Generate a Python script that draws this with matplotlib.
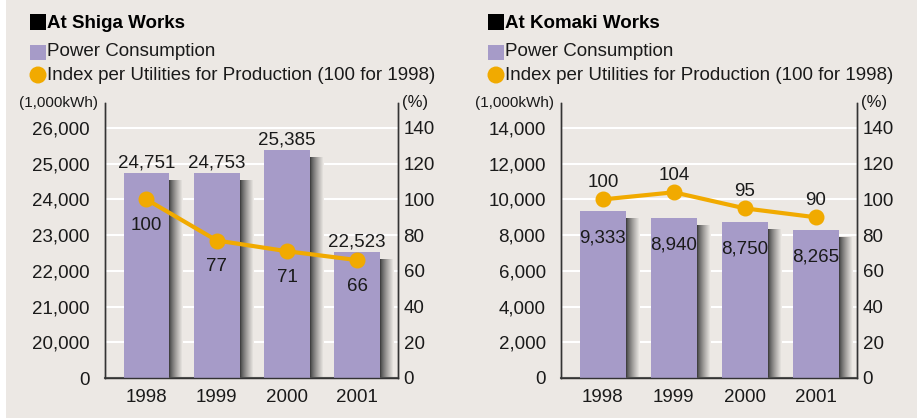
import matplotlib

matplotlib.use('Agg')
import matplotlib.pyplot as plt
import numpy as np
from matplotlib.colors import to_rgb
from matplotlib.patches import Rectangle, Ellipse

plt.rcParams['font.family'] = ['Liberation Sans', 'DejaVu Sans']

BG = "#ece8e4"
PURPLE = "#a69bc8"
ORANGE = "#f1aa00"
INK = "#1a1a1a"
SPINE = "#333333"
FS = 13.5

YEARS = ["1998", "1999", "2000", "2001"]

SHIGA_POWER = [24751, 24753, 25385, 22523]
SHIGA_INDEX = [100, 77, 71, 66]
SHIGA_TICKS = [19000, 20000, 21000, 22000, 23000, 24000, 25000, 26000]
SHIGA_TICKLABELS = ["0", "20,000", "21,000", "22,000", "23,000", "24,000", "25,000", "26,000"]

KOMAKI_POWER = [9333, 8940, 8750, 8265]
KOMAKI_INDEX = [100, 104, 95, 90]
KOMAKI_TICKS = [0, 2000, 4000, 6000, 8000, 10000, 12000, 14000]
KOMAKI_TICKLABELS = ["0", "2,000", "4,000", "6,000", "8,000", "10,000", "12,000", "14,000"]

PCT_TICKS = [0, 20, 40, 60, 80, 100, 120, 140]

W, H = 917, 418
fig = plt.figure(figsize=(W / 100, H / 100), dpi=100, facecolor=BG)
fig.patches.append(Rectangle((0, 0), 6 / W, 1, transform=fig.transFigure,
                             facecolor="white", edgecolor="none", zorder=0))


def px(x, y):
    return x / W, 1 - y / H


def header(x0, title):
    fig.patches.append(Rectangle(px(x0, 30), 16 / W, 16 / H, transform=fig.transFigure,
                                 facecolor="black", edgecolor="none"))
    fig.text(*px(x0 + 17, 23), title, fontsize=FS, fontweight="bold",
             color="black", va="center", ha="left")
    fig.patches.append(Rectangle(px(x0, 60), 16 / W, 15 / H, transform=fig.transFigure,
                                 facecolor=PURPLE, edgecolor="none"))
    fig.text(*px(x0 + 17, 52), "Power Consumption", fontsize=FS, color=INK,
             va="center", ha="left")
    fig.patches.append(Ellipse(px(x0 + 8, 75), 17 / W, 17 / H, transform=fig.transFigure,
                               facecolor=ORANGE, edgecolor="none"))
    fig.text(*px(x0 + 17, 75), "Index per Utilities for Production (100 for 1998)",
             fontsize=FS, color=INK, va="center", ha="left")


def panel(left, right, power, index, ticks, ticklabels, label_inside):
    x0, y0 = px(left, 378)
    x1, y1 = px(right, 103)
    ax = fig.add_axes([x0, y0, x1 - x0, y1 - y0])
    ax.set_facecolor(BG)
    lo = ticks[0]
    step = ticks[1] - ticks[0]
    hi = ticks[-1] + step * 0.7
    ax.set_ylim(lo, hi)
    ax.set_xlim(-0.59, 3.58)
    x = np.arange(len(YEARS))
    width = 0.65

    for t in ticks[1:]:
        ax.axhline(t, color="white", lw=1.5, zorder=1)

    # shadow behind each bar: gradient strip, a bit lower than the bar
    drop = (hi - lo) * 7 / 275
    dark = np.array(to_rgb("#404040"))
    light = np.array(to_rgb(BG))
    n = 14
    sw = 0.2 / n
    for xi, v in zip(x, power):
        for k in range(n):
            c = dark + (light - dark) * (k / (n - 1)) ** 0.8
            ax.bar(xi + width / 2 + sw * (k + 0.5), v - drop - lo, width=sw, bottom=lo,
                   color=c, edgecolor="none", zorder=2)
    ax.bar(x, np.array(power) - lo, width=width, bottom=lo, color=PURPLE,
           edgecolor="none", zorder=3)

    for xi, v in zip(x, power):
        dy = -27 if label_inside else 10
        ax.annotate(f"{v:,}", (xi, v), xytext=(0, dy), textcoords="offset pixels",
                    ha="center", va="center", fontsize=FS, color=INK, zorder=6)

    ax2 = ax.twinx()
    ax2.set_ylim(0, 140 * (hi - lo) / (ticks[-1] - lo))
    ax2.plot(x, index, color=ORANGE, lw=3, marker="o", markersize=10.5, zorder=5)
    for xi, v in zip(x, index):
        dy = 17 if label_inside else -26
        ax2.annotate(str(v), (xi, v), xytext=(0, dy), textcoords="offset pixels",
                     ha="center", va="center", fontsize=FS, color=INK, zorder=6)

    ax.set_yticks(ticks)
    ax.set_yticklabels(ticklabels)
    ax.set_xticks(x)
    ax.set_xticklabels(YEARS)
    ax.tick_params(axis="y", length=0, pad=11, labelsize=FS, labelcolor=INK)
    ax.tick_params(axis="x", length=0, pad=8, labelsize=FS, labelcolor=INK)
    ax2.set_yticks(PCT_TICKS)
    ax2.tick_params(axis="y", length=0, pad=4, labelsize=FS, labelcolor=INK)

    for a in (ax, ax2):
        a.spines["top"].set_visible(False)
        for s in ("left", "right", "bottom"):
            a.spines[s].set_color(SPINE)
            a.spines[s].set_linewidth(1)
    ax.spines["bottom"].set_color("#555555")
    ax.spines["bottom"].set_linewidth(1.5)

    ax.text(-0.025, 1.0, "(1,000kWh)", transform=ax.transAxes, ha="right", va="center",
            fontsize=11, color=INK)
    ax2.text(1.015, 1.0, "(%)", transform=ax2.transAxes, ha="left", va="center",
             fontsize=12, color=INK)
    return ax


header(30, "At Shiga Works")
header(488, "At Komaki Works")
panel(105, 398, SHIGA_POWER, SHIGA_INDEX, SHIGA_TICKS, SHIGA_TICKLABELS, False)
panel(561, 857, KOMAKI_POWER, KOMAKI_INDEX, KOMAKI_TICKS, KOMAKI_TICKLABELS, True)

fig.savefig("out.png", dpi=100, facecolor=BG)
